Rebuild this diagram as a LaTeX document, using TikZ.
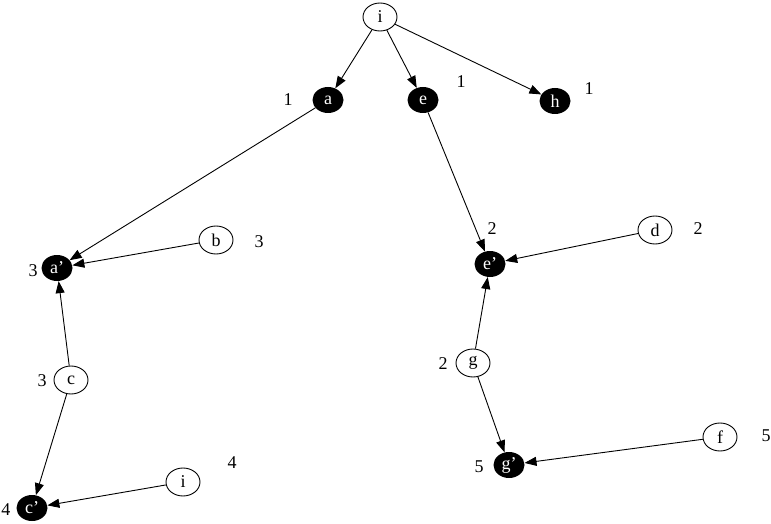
\documentclass[tikz,border=0pt]{standalone}
\usepackage{fontspec}
\setmainfont{Liberation Serif}
\usetikzlibrary{shapes.geometric,arrows.meta}
\begin{document}
\begin{tikzpicture}[x=1pt,y=-1pt,
  wnode/.style={ellipse,draw,line width=0.9pt,minimum width=34pt,minimum height=28pt,inner sep=0pt,font=\fontsize{18}{18}\selectfont},
  bnode/.style={ellipse,fill=black,text=white,minimum width=31pt,minimum height=26pt,inner sep=0pt,font=\fontsize{18}{18}\selectfont},
  lab/.style={font=\fontsize{18}{18}\selectfont,inner sep=0pt},
  arr/.style={-{Triangle[length=12pt,width=9pt]},line width=0.9pt}]
\useasboundingbox (0,0) rectangle (771,524);
% nodes
\node[wnode] (i1) at (380,17) {i};
\node[bnode] (a) at (328,100) {a};
\node[bnode] (e) at (423,100) {e};
\node[bnode] (h) at (555,101) {h};
\node[bnode] (ap) at (57,268) {a'};
\node[wnode] (b) at (216,240) {b};
\node[wnode] (c) at (71,380) {c};
\node[bnode] (cp) at (32,508) {c'};
\node[wnode] (i2) at (183,482) {i};
\node[bnode] (ep) at (490,264) {e'};
\node[wnode] (d) at (655,230) {d};
\node[wnode] (g) at (473,363) {g};
\node[bnode] (gp) at (509,465) {g'};
\node[wnode] (f) at (720,437) {f};
% labels
\node[lab] (la) at (288,100) {1};
\node[lab] (le) at (461,82) {1};
\node[lab] (lh) at (589,89) {1};
\node[lab] (lap) at (33,271) {3};
\node[lab] (lb) at (259,242) {3};
\node[lab] (lc) at (42,381) {3};
\node[lab] (lcp) at (6,510) {4};
\node[lab] (li2) at (232,463) {4};
\node[lab] (lep) at (492,229) {2};
\node[lab] (ld) at (698,229) {2};
\node[lab] (lg) at (443,364) {2};
\node[lab] (lgp) at (479,467) {5};
\node[lab] (lf) at (766,436) {5};
% edges
\draw[arr] (i1) -- (a);
\draw[arr] (i1) -- (e);
\draw[arr] (i1) -- (h);
\draw[arr] (a) -- (ap);
\draw[arr] (b) -- (ap);
\draw[arr] (c) -- (ap);
\draw[arr] (c) -- (cp);
\draw[arr] (i2) -- (cp);
\draw[arr] (e) -- (ep);
\draw[arr] (d) -- (ep);
\draw[arr] (g) -- (ep);
\draw[arr] (g) -- (gp);
\draw[arr] (f) -- (gp);
\end{tikzpicture}
\end{document}
